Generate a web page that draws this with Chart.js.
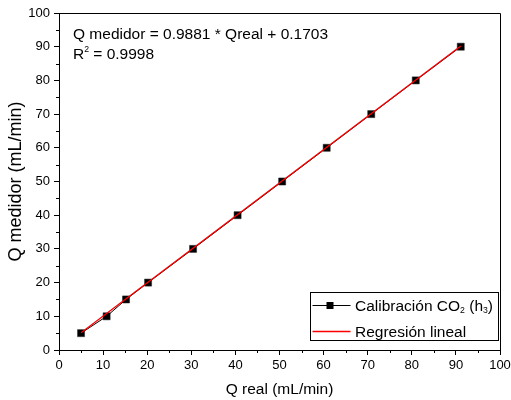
<!DOCTYPE html>
<html>
<head>
<meta charset="utf-8">
<script src="https://cdn.jsdelivr.net/npm/chart.js@4.4.1/dist/chart.umd.min.js"></script>
<style>
  html, body { margin: 0; padding: 0; background: #fff; }
  #chart { display: block; }
</style>
</head>
<body>
<canvas id="chart" width="511" height="400"></canvas>
<script>
// Measured flow vs. real flow (mL/min)
const qReal = [5.0, 10.8, 15.2, 20.2, 30.4, 40.5, 50.6, 60.7, 70.8, 80.9, 91.1];
const qMedidor = [5, 10, 15, 20, 30, 40, 50, 60, 70, 80, 90];

// Linear fit reported on the plot
const fitSlope = 0.9881;
const fitIntercept = 0.1703;
const fitR2 = '0.9998';

const majorTicks = [0, 10, 20, 30, 40, 50, 60, 70, 80, 90, 100];
const minorTicks = [5, 15, 25, 35, 45, 55, 65, 75, 85, 95];

// Legend / equation text, split in runs: 0 normal, 1 subscript, -1 superscript
const seriesLabel = [['Calibración CO', 0], ['2', 1], [' (h', 0], ['3', 1], [')', 0]];
const fitLabel = [['Regresión lineal', 0]];
const equationLine = [['Q medidor = ' + fitSlope + ' * Qreal + ' + fitIntercept, 0]];
const r2Line = [['R', 0], ['2', -1], [' = ' + fitR2, 0]];

const FONT = 'Arial, "Liberation Sans", sans-serif';

const fitLine = [qReal[0], qReal[qReal.length - 1]].map(x => ({ x: x, y: fitSlope * x + fitIntercept }));

function drawRuns(ctx, x, y, runs, size) {
    ctx.textBaseline = 'alphabetic';
    ctx.textAlign = 'left';
    runs.forEach(([text, mode]) => {
        let s = size, dy = 0;
        if (mode === 1) { s = size * 0.56; dy = size * 0.17; }
        if (mode === -1) { s = size * 0.56; dy = -size * 0.43; }
        ctx.font = s + 'px ' + FONT;
        ctx.fillText(text, x, y + dy);
        x += ctx.measureText(text).width;
    });
}

const decorPlugin = {
    id: 'decor',
    afterDraw(chart) {
        const ctx = chart.ctx;
        const area = chart.chartArea;
        const xs = chart.scales.x;
        const ys = chart.scales.y;
        ctx.save();
        ctx.strokeStyle = '#000';
        ctx.lineWidth = 1;

        // top and right frame
        ctx.beginPath();
        ctx.moveTo(Math.round(area.left) + 0.5, Math.round(area.top) + 0.5);
        ctx.lineTo(Math.round(area.right) + 0.5, Math.round(area.top) + 0.5);
        ctx.lineTo(Math.round(area.right) + 0.5, Math.round(area.bottom) + 0.5);
        ctx.stroke();

        // minor ticks
        ctx.beginPath();
        minorTicks.forEach(v => {
            const px = Math.round(xs.getPixelForValue(v)) + 0.5;
            ctx.moveTo(px, area.bottom);
            ctx.lineTo(px, area.bottom + 3);
            const py = Math.round(ys.getPixelForValue(v)) + 0.5;
            ctx.moveTo(area.left, py);
            ctx.lineTo(area.left - 3, py);
        });
        ctx.stroke();

        // fit equation
        ctx.fillStyle = '#000';
        drawRuns(ctx, area.left + 14, area.top + 25.5, equationLine, 15.5);
        drawRuns(ctx, area.left + 14, area.top + 45.5, r2Line, 15.5);

        // legend box
        const bx = 310.5, by = 292.5, bw = 188, bh = 48;
        ctx.fillStyle = '#fff';
        ctx.fillRect(bx, by, bw, bh);
        ctx.strokeRect(bx, by, bw, bh);

        const data = chart.data.datasets[1];
        const fit = chart.data.datasets[0];
        const row1 = 305.5, row2 = 331.5;
        ctx.strokeStyle = data.borderColor;
        ctx.lineWidth = data.borderWidth;
        ctx.beginPath();
        ctx.moveTo(bx + 2, row1);
        ctx.lineTo(bx + 40, row1);
        ctx.stroke();
        ctx.fillStyle = data.pointBackgroundColor;
        ctx.fillRect(bx + 19.5 - 3.5, row1 - 3.5, 7, 7);

        ctx.strokeStyle = fit.borderColor;
        ctx.lineWidth = fit.borderWidth;
        ctx.beginPath();
        ctx.moveTo(bx + 2, row2);
        ctx.lineTo(bx + 40, row2);
        ctx.stroke();

        ctx.fillStyle = '#000';
        drawRuns(ctx, bx + 44.5, 310.5, seriesLabel, 15.5);
        drawRuns(ctx, bx + 44.5, 336.5, fitLabel, 15.5);
        ctx.restore();
    }
};

function axis(title, isY) {
    return {
        type: 'linear',
        min: 0,
        max: 100,
        afterBuildTicks: s => { s.ticks = majorTicks.map(v => ({ value: v })); },
        afterFit: s => {
            if (isY) {
                s.width = 59;
                s.paddingTop = 0;
                s.paddingBottom = 0;
            } else {
                s.height = 50;
                s.paddingLeft = 0;
                s.paddingRight = 0;
            }
        },
        grid: {
            drawOnChartArea: false,
            drawTicks: true,
            tickLength: 5,
            tickColor: '#000',
            tickWidth: 1
        },
        border: { display: true, color: '#000', width: 1 },
        ticks: {
            color: '#000',
            padding: isY ? 4 : 3,
            font: { family: FONT, size: 13 },
            maxRotation: 0,
            autoSkip: false
        },
        title: {
            display: true,
            text: title,
            color: '#000',
            font: { family: FONT, size: isY ? 18 : 15.5, lineHeight: 1.2 },
            padding: isY ? { top: 5, bottom: 0 } : { top: 0, bottom: 1 }
        }
    };
}

new Chart(document.getElementById('chart'), {
    type: 'scatter',
    data: {
        datasets: [
            {
                label: 'Regresión lineal',
                data: fitLine,
                showLine: true,
                borderColor: '#ff0000',
                borderWidth: 1.3,
                pointRadius: 0,
                order: 0
            },
            {
                label: 'Calibración CO₂ (h₃)',
                data: qReal.map((x, i) => ({ x: x, y: qMedidor[i] })),
                showLine: true,
                borderColor: '#000',
                borderWidth: 1,
                pointStyle: 'rect',
                pointRadius: 5,
                pointBackgroundColor: '#000',
                pointBorderColor: '#222',
                pointBorderWidth: 0.5,
                order: 1
            }
        ]
    },
    options: {
        responsive: false,
        animation: false,
        devicePixelRatio: 1,
        layout: { padding: { top: 13, right: 11, left: 0, bottom: 0 } },
        plugins: {
            legend: { display: false },
            tooltip: { enabled: false }
        },
        scales: {
            x: axis('Q real (mL/min)', false),
            y: axis('Q medidor (mL/min)', true)
        }
    },
    plugins: [decorPlugin]
});
</script>
</body>
</html>
